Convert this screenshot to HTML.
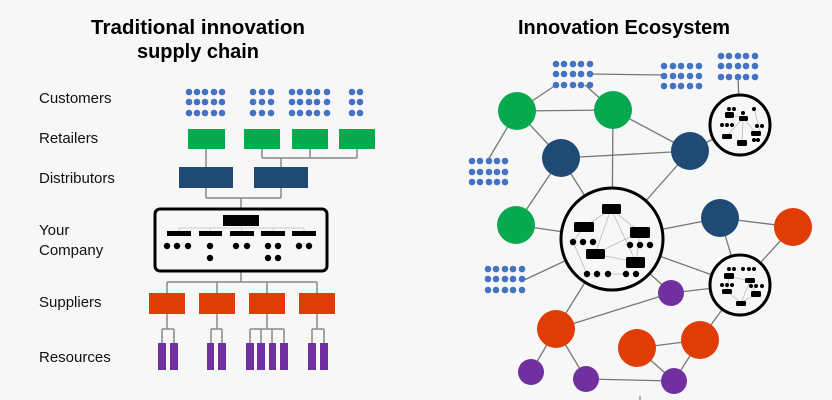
<!DOCTYPE html>
<html><head><meta charset="utf-8"><style>
html,body{margin:0;padding:0;background:#f7f7f7;}
svg{display:block;font-family:"Liberation Sans","DejaVu Sans",sans-serif;}
</style></head><body>
<svg id="s" width="832" height="400" viewBox="0 0 832 400" xmlns="http://www.w3.org/2000/svg">
<rect width="832" height="400" fill="#f7f7f7"/>
<text x="198" y="34" text-anchor="middle" font-size="20" font-weight="bold" textLength="214" lengthAdjust="spacingAndGlyphs">Traditional innovation</text>
<text x="198" y="58" text-anchor="middle" font-size="20" font-weight="bold" textLength="122" lengthAdjust="spacingAndGlyphs">supply chain</text>
<text x="624" y="34" text-anchor="middle" font-size="20" font-weight="bold" textLength="212" lengthAdjust="spacingAndGlyphs">Innovation Ecosystem</text>
<g font-size="15" fill="#111">
<text x="39" y="103">Customers</text>
<text x="39" y="143">Retailers</text>
<text x="39" y="183">Distributors</text>
<text x="39" y="235">Your</text>
<text x="39" y="255">Company</text>
<text x="39" y="307">Suppliers</text>
<text x="39" y="362">Resources</text>
</g>
<g id="lines" stroke="#888" stroke-width="1.5" fill="none">
<path d="M206 149V167M262 149V158M310 149V158M357 149V158M262 158H357M281 158V167"/>
<path d="M206 188V198M281 188V198M206 198H281M241 198V208"/>
<path d="M241 272V282M167 282H317M167 282V293M217 282V293M267 282V293M317 282V293"/>
<path d="M167 314V329M162 329H174M162 329V343M174 329V343"/>
<path d="M217 314V329M211 329H222M211 329V343M222 329V343"/>
<path d="M267 314V329M250 329H284M250 329V343M261 329V343M272 329V343M284 329V343"/>
<path d="M317 314V329M312 329H324M312 329V343M324 329V343"/>
</g>
<g stroke="#ccc" stroke-width="1" fill="none">
<path d="M241 226V228M179 228H304M179 228V231M210 228V231M242 228V231M273 228V231M304 228V231"/>
</g>
<g fill="#07a94e">
<rect x="188" y="129" width="37" height="20"/><rect x="244" y="129" width="36" height="20"/>
<rect x="292" y="129" width="36" height="20"/><rect x="339" y="129" width="36" height="20"/>
</g>
<g fill="#1f4a73">
<rect x="179" y="167" width="54" height="21"/><rect x="254" y="167" width="54" height="21"/>
</g>
<rect x="155" y="209" width="172" height="62" rx="5" fill="none" stroke="#000" stroke-width="3"/>
<g fill="#000">
<rect x="223" y="215" width="36" height="11"/>
<rect x="167" y="231" width="24" height="5"/><rect x="199" y="231" width="23" height="5"/>
<rect x="230" y="231" width="24" height="5"/><rect x="261" y="231" width="24" height="5"/>
<rect x="292" y="231" width="24" height="5"/>
</g>
<g fill="#e03c06">
<rect x="149" y="293" width="36" height="21"/><rect x="199" y="293" width="36" height="21"/>
<rect x="249" y="293" width="36" height="21"/><rect x="299" y="293" width="36" height="21"/>
</g>
<g fill="#7030a0">
<rect x="158" y="343" width="8" height="27"/><rect x="170" y="343" width="8" height="27"/>
<rect x="207" y="343" width="7" height="27"/><rect x="218" y="343" width="8" height="27"/>
<rect x="246" y="343" width="8" height="27"/><rect x="257" y="343" width="8" height="27"/>
<rect x="269" y="343" width="7" height="27"/><rect x="280" y="343" width="8" height="27"/>
<rect x="308" y="343" width="8" height="27"/><rect x="320" y="343" width="8" height="27"/>
</g>
<g id="dots"></g>
<g id="eco"></g>
<line x1="640" y1="396" x2="640" y2="400" stroke="#4472c4" stroke-width="1"/>
</svg>
<script>
var NS="http://www.w3.org/2000/svg";
function el(p,t,a){var e=document.createElementNS(NS,t);for(var k in a)e.setAttribute(k,a[k]);p.appendChild(e);return e;}
var D=document.getElementById('dots'),E=document.getElementById('eco');
function grid(xs,ys,r,c){ys.forEach(function(y){xs.forEach(function(x){el(D,'circle',{cx:x,cy:y,r:r,fill:c||'#4472c4'});});});}
var cy=[92,102,113];
grid([189,197,205,214,222],cy,3.3);grid([253,262,271],cy,3.3);grid([292,300,309,317,327],cy,3.3);grid([352,360],cy,3.3);
[[167,246],[177,246],[188,246],[210,246],[210,258],[236,246],[247,246],[268,246],[278,246],[268,258],[278,258],[299,246],[309,246]].forEach(function(p){el(D,'circle',{cx:p[0],cy:p[1],r:3.2,fill:'#000'});});
var N={gA:[573,74],gB:[681,76],gC:[738,78],gD:[489,172],gE:[505,279],
g1:[517,111],g2:[613,110],n1:[561,158],n2:[690,151],s1:[740,125],g3:[516,225],B:[612,239],n3:[720,218],o1:[793,227],s2:[740,285],
p1:[671,293],o2:[556,329],o3:[637,348],o4:[700,340],p2:[531,372],p3:[586,379],p4:[674,381]};
var L=el(E,'g',{stroke:'#777','stroke-width':1.3});
[['g1',[556,85]],['g2',[585,85]],['s1','gC'],['g1','g2'],['g1','n1'],['g1',[488,160]],['g2','B'],['g2','n2'],['n1','n2'],['n1','g3'],['n1','B'],['n2','s1'],['n2','B'],['g3','B'],[[522,281],'B'],['B','n3'],['B','s2'],['n3','o1'],['n3','s2'],['o1','s2'],['B','p1'],['p1','s2'],['B','o2'],['o2','p1'],['o2','p2'],['o2','p3'],['p3','p4'],['o3','o4'],['o3','p4'],['o4','p4'],['o4','s2']].forEach(function(e){
var a=typeof e[0]=='string'?N[e[0]]:e[0],b=typeof e[1]=='string'?N[e[1]]:e[1];el(L,'line',{x1:a[0],y1:a[1],x2:b[0],y2:b[1]});});
el(L,'line',{x1:590,y1:74,x2:662,y2:75});
function g2(xs,ys){ys.forEach(function(y){xs.forEach(function(x){el(E,'circle',{cx:x,cy:y,r:3.3,fill:'#4472c4'});});});}
g2([556,564,573,581,590],[64,74,85]);g2([664,673,681,690,699],[66,76,86]);g2([721,729,738,746,755],[56,66,77]);
g2([472,480,489,497,505],[161,172,182]);g2([488,496,505,513,522],[269,279,290]);
function c(k,r,f){el(E,'circle',{cx:N[k][0],cy:N[k][1],r:r,fill:f});}
['g1','g2','g3'].forEach(function(k){c(k,19,'#07a94e');});
['n1','n2','n3'].forEach(function(k){c(k,19,'#1f4a73');});
['o1','o2','o3','o4'].forEach(function(k){c(k,19,'#e03c06');});
['p1','p2','p3','p4'].forEach(function(k){c(k,13,'#7030a0');});
function hub(k,r,rects,dots,lines){var o=N[k];el(E,'circle',{cx:o[0],cy:o[1],r:r,fill:'#f7f7f7',stroke:'#000','stroke-width':3});
var g=el(E,'g',{stroke:'#bbb','stroke-width':0.8});lines.forEach(function(l){el(g,'line',{x1:l[0],y1:l[1],x2:l[2],y2:l[3]});});
rects.forEach(function(q){el(E,'rect',{x:q[0],y:q[1],width:q[2]-q[0],height:q[3]-q[1],rx:1.5,fill:'#000'});});
dots.forEach(function(d){el(E,'circle',{cx:d[0],cy:d[1],r:d[2]||3.2,fill:'#000'});});}
hub('B',51,[[602,204,621,214],[574,222,594,232],[630,227,650,238],[586,249,605,259],[626,257,645,268]],
[[573,242],[583,242],[593,242],[630,245],[640,245],[650,245],[587,274],[597,274],[608,274],[626,274],[636,274]],
[[611,209,584,227],[611,209,640,232],[611,209,595,254],[611,209,636,262],[584,227,573,242],[640,232,636,262],[595,254,636,262],[595,254,640,232],[573,242,587,274],[608,274,626,274]]);
hub('s1',30,[[725,112,734,118],[739,116,748,121],[751,131,761,136],[722,134,732,139],[737,140,747,146]],
[[729,109,2],[734,109,2],[743,113,2],[754,109,2],[722,125,2],[727,125,2],[732,125,2],[757,126,2],[762,126,2],[754,140,2],[758,140,2]],
[[743,118,727,136],[743,118,742,143],[743,118,756,133],[754,109,760,131],[730,115,743,118]]);
hub('s2',30,[[724,273,734,279],[745,278,755,283],[722,289,732,294],[751,291,761,297],[736,301,746,306]],
[[729,269,2],[734,269,2],[743,269,2],[749,269,2],[754,269,2],[722,285,2],[727,285,2],[732,285,2],[751,286,2],[756,286,2],[762,286,2]],
[[729,276,727,291],[729,276,750,281],[750,281,741,303],[750,281,756,294],[727,291,741,303],[756,294,741,303]]);
</script>
</body></html>
